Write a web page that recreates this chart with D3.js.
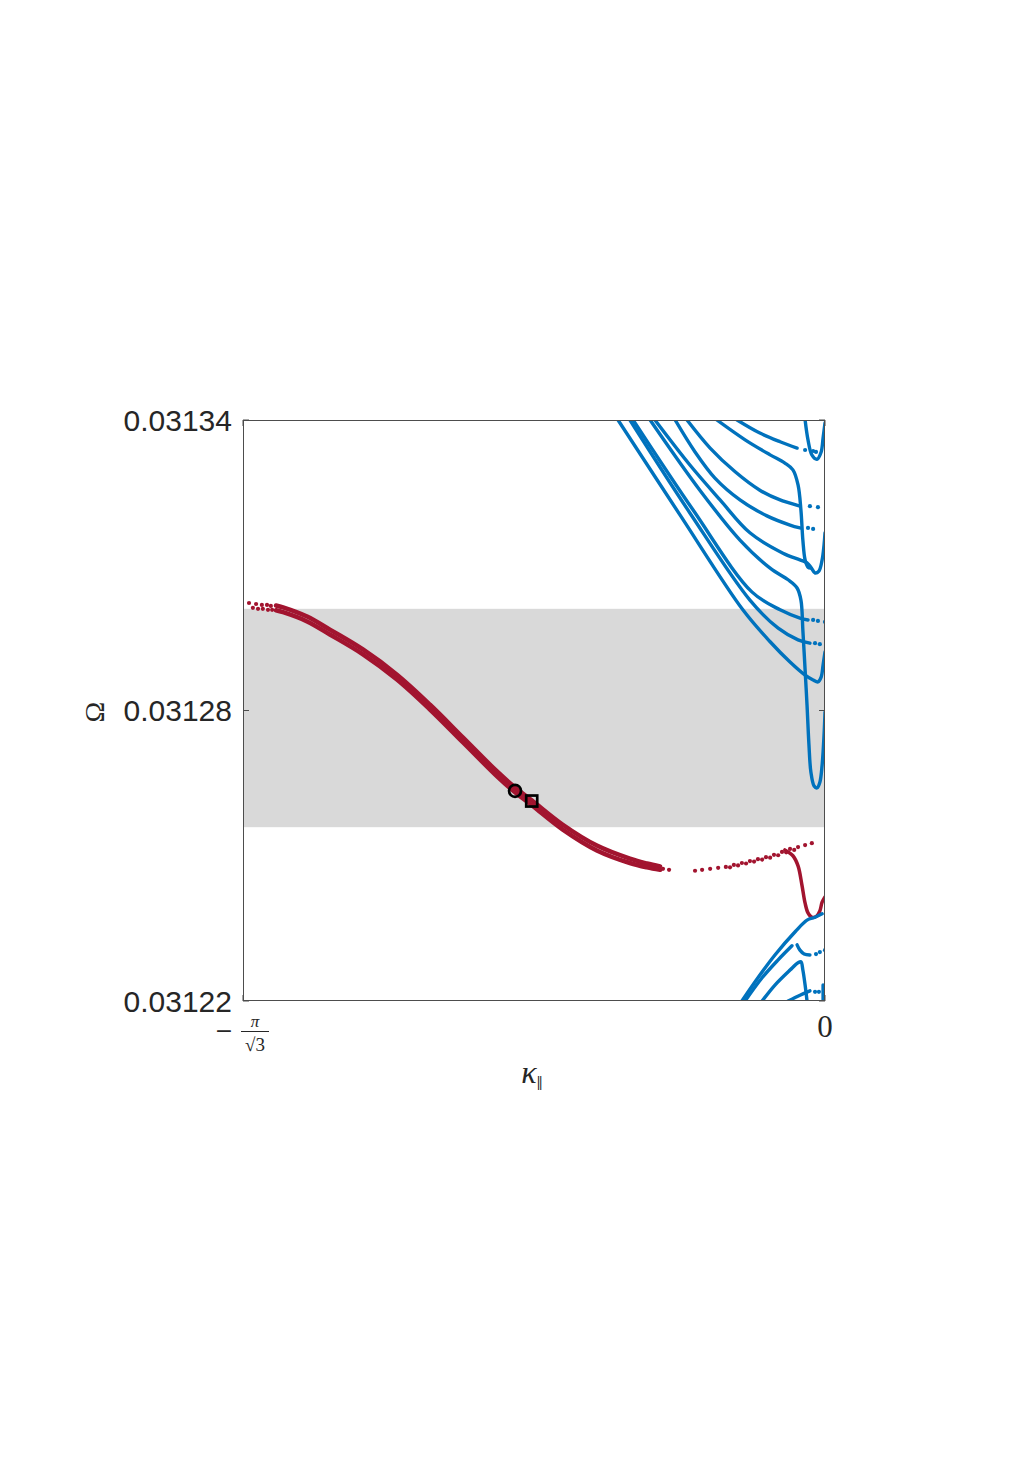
<!DOCTYPE html>
<html><head><meta charset="utf-8">
<script src="https://cdn.jsdelivr.net/npm/d3@7"></script>
<style>body{margin:0;background:#fff}svg{display:block}</style>
</head><body>
<svg id="chart" width="1033" height="1462"></svg>
<script>
// ---------- data (kappa, Omega) ----------
const xDomain = [-Math.PI / Math.sqrt(3), 0];
const yDomain = [0.03122, 0.03134];
const yTicks = [0.03122, 0.03128, 0.03134];
const yTickLabels = ["0.03122", "0.03128", "0.03134"];
const xTicks = [-Math.PI / Math.sqrt(3), 0];
const bandRange = [0.0312559, 0.0313010];

const redKappa = [-1.711,-1.689,-1.614,-1.543,-1.440,-1.334,-1.231,-1.128,-1.022,-0.966,-0.913,-0.817,-0.711,-0.608,-0.555,-0.514];
const redStrandA = [0.0313017,0.0313013,0.0312994,0.0312967,0.0312926,0.0312874,0.0312812,0.0312744,0.0312674,0.0312641,0.0312614,0.0312564,0.0312521,0.0312494,0.0312484,0.0312478];
const redStrandB = [0.0313007,0.0313003,0.0312984,0.0312957,0.0312916,0.0312864,0.0312802,0.0312734,0.0312664,0.0312631,0.0312604,0.0312554,0.0312511,0.0312485,0.0312476,0.0312471];
const redDotsStart = [[-1.795,0.0313022],[-1.773,0.0313020],[-1.755,0.0313018],[-1.739,0.0313018],[-1.727,0.0313016],[-1.783,0.0313012],[-1.767,0.0313010],[-1.752,0.0313010],[-1.736,0.0313008],[-1.723,0.0313008]];
const redDotsEnd = [[-0.539,0.0312475],[-0.524,0.0312473],[-0.505,0.0312473],[-0.486,0.0312471]];
const redDotsRise = [[-0.405,0.0312469],[-0.383,0.0312471],[-0.358,0.0312473],[-0.333,0.0312475],[-0.309,0.0312477],[-0.284,0.0312481],[-0.259,0.0312485],[-0.234,0.0312489],[-0.209,0.0312493],[-0.184,0.0312497],[-0.159,0.0312502],[-0.134,0.0312508],[-0.109,0.0312514],[-0.084,0.0312518],[-0.062,0.0312522],[-0.041,0.0312526]];
const redDotsRise2 = [[-0.296,0.0312476],[-0.271,0.0312480],[-0.246,0.0312484],[-0.221,0.0312488],[-0.196,0.0312492],[-0.171,0.0312496],[-0.146,0.0312501],[-0.121,0.0312507],[-0.096,0.0312512]];
const redBranch = [[-0.125,0.0312512],[-0.100,0.0312500],[-0.084,0.0312479],[-0.072,0.0312440],[-0.062,0.0312402],[-0.053,0.0312382],[-0.041,0.0312373],[-0.025,0.0312376],[-0.016,0.0312386],[-0.009,0.0312404],[0,0.0312415]];

const blueS1 = [[-0.645,0.0313400],[-0.452,0.0313204],[-0.256,0.0313008],[-0.171,0.0312942],[-0.109,0.0312900],[-0.062,0.0312873],[-0.037,0.0312863],[-0.022,0.0312859],[-0.012,0.0312869],[-0.006,0.0312894],[0,0.0312921]];
const blueS2 = [[-0.608,0.0313400],[-0.421,0.0313208],[-0.234,0.0313028],[-0.146,0.0312970],[-0.084,0.0312946],[-0.047,0.0312939]];
const blueS3 = [[-0.598,0.0313400],[-0.411,0.0313214],[-0.228,0.0313045],[-0.140,0.0313008],[-0.078,0.0312991],[-0.053,0.0312987]];
const blueL650 = [[-0.545,0.0313400],[-0.390,0.0313255],[-0.265,0.0313152],[-0.171,0.0313094],[-0.115,0.0313070],[-0.087,0.0313053],[-0.075,0.0313028],[-0.069,0.0312966],[-0.062,0.0312884],[-0.056,0.0312811],[-0.050,0.0312729],[-0.044,0.0312673],[-0.034,0.0312644],[-0.025,0.0312640],[-0.016,0.0312652],[-0.009,0.0312687],[-0.003,0.0312749],[0,0.0312797]];
const blueL655 = [[-0.530,0.0313400],[-0.421,0.0313307],[-0.327,0.0313235],[-0.234,0.0313167],[-0.131,0.0313125],[-0.078,0.0313111],[-0.056,0.0313105],[-0.044,0.0313096],[-0.031,0.0313084],[-0.019,0.0313088],[-0.009,0.0313111],[-0.003,0.0313142],[0,0.0313167]];
const blueL675 = [[-0.467,0.0313400],[-0.405,0.0313334],[-0.343,0.0313280],[-0.265,0.0313235],[-0.181,0.0313202],[-0.109,0.0313183],[-0.078,0.0313177]];
const blueL687 = [[-0.430,0.0313400],[-0.358,0.0313342],[-0.280,0.0313293],[-0.203,0.0313255],[-0.140,0.0313235],[-0.078,0.0313222]];
const blueL717 = [[-0.337,0.0313400],[-0.249,0.0313359],[-0.171,0.0313328],[-0.125,0.0313311],[-0.100,0.0313297],[-0.084,0.0313266],[-0.075,0.0313214],[-0.069,0.0313152],[-0.062,0.0313111],[-0.053,0.0313096],[-0.044,0.0313094]];
const blueL737 = [[-0.274,0.0313400],[-0.203,0.0313373],[-0.140,0.0313355],[-0.087,0.0313342]];
const blueVtop = [[-0.062,0.0313400],[-0.053,0.0313359],[-0.041,0.0313328],[-0.025,0.0313319],[-0.012,0.0313334],[-0.006,0.0313363],[0,0.0313394]];
const blueB1 = [[-0.259,0.0312200],[-0.209,0.0312248],[-0.156,0.0312295],[-0.093,0.0312343],[-0.056,0.0312367],[-0.031,0.0312373],[-0.009,0.0312380]];
const blueB2a = [[-0.249,0.0312200],[-0.196,0.0312248],[-0.146,0.0312285],[-0.103,0.0312314]];
const blueB2b = [[-0.087,0.0312316],[-0.078,0.0312305],[-0.065,0.0312297],[-0.047,0.0312295]];
const blueB3 = [[-0.196,0.0312200],[-0.156,0.0312233],[-0.109,0.0312264],[-0.084,0.0312279],[-0.075,0.0312281],[-0.069,0.0312264],[-0.062,0.0312233],[-0.056,0.0312200]];
const blueB4 = [[-0.115,0.0312200],[-0.078,0.0312212],[-0.047,0.0312221]];
const blueB5 = [[-0.006,0.0312233],[-0.006,0.0312200]];
const blueDots = [[-0.031,0.0312939],[-0.016,0.0312937],[-0.037,0.0312987],[-0.022,0.0312985],[0,0.0312983],[-0.053,0.0313177],[-0.037,0.0313175],[-0.047,0.0313222],[-0.022,0.0313220],[-0.062,0.0313338],[-0.037,0.0313336],[-0.028,0.0313334],[-0.028,0.0312297],[-0.016,0.0312301],[0,0.0312305],[-0.031,0.0312219],[-0.019,0.0312219]];

const markerCircle = [-0.966, 0.0312634];
const markerSquare = [-0.914, 0.0312613];

// ---------- drawing ----------
const RED = "#A2142F", BLUE = "#0072BD";
const L = 243, R = 825, T = 420, B = 1001;
const svg = d3.select("#chart");
const x = d3.scaleLinear().domain(xDomain).range([L, R]);
const y = d3.scaleLinear().domain(yDomain).range([B, T]);

svg.append("defs").append("clipPath").attr("id", "clip")
  .append("rect").attr("x", L).attr("y", T).attr("width", R - L).attr("height", B - T);

const plot = svg.append("g").attr("clip-path", "url(#clip)");
plot.append("rect").attr("x", L).attr("width", R - L)
  .attr("y", y(bandRange[1])).attr("height", y(bandRange[0]) - y(bandRange[1]))
  .attr("fill", "#d9d9d9");

const lineFree = d3.line().x(d => x(d[0])).y(d => y(d[1])).curve(d3.curveCatmullRom.alpha(0.5));

[redStrandA, redStrandB].forEach(s => plot.append("path")
  .attr("d", lineFree(redKappa.map((k, i) => [k, s[i]])))
  .attr("fill", "none").attr("stroke", RED).attr("stroke-width", 4.5).attr("stroke-linecap", "round"));
plot.append("path").attr("d", lineFree(redBranch)).attr("fill", "none").attr("stroke", RED)
  .attr("stroke-width", 3.5).attr("stroke-linejoin", "round").attr("stroke-linecap", "round");
plot.selectAll("circle.rd").data(redDotsStart.concat(redDotsEnd, redDotsRise, redDotsRise2)).join("circle")
  .attr("class", "rd").attr("cx", d => x(d[0])).attr("cy", d => y(d[1])).attr("r", 2.1).attr("fill", RED);

const blues = [blueS1, blueS2, blueS3, blueL650, blueL655, blueL675, blueL687, blueL717, blueL737, blueVtop,
  blueB1, blueB2a, blueB2b, blueB3, blueB4, blueB5];
blues.forEach(s => plot.append("path").attr("d", lineFree(s)).attr("fill", "none").attr("stroke", BLUE)
  .attr("stroke-width", 3.4).attr("stroke-linejoin", "round").attr("stroke-linecap", "round"));
plot.selectAll("circle.bd").data(blueDots).join("circle")
  .attr("class", "bd").attr("cx", d => x(d[0])).attr("cy", d => y(d[1])).attr("r", 2.1).attr("fill", BLUE);

// markers
svg.append("circle").attr("cx", x(markerCircle[0])).attr("cy", y(markerCircle[1])).attr("r", 6)
  .attr("fill", "none").attr("stroke", "#000").attr("stroke-width", 2.7);
svg.append("rect").attr("x", x(markerSquare[0]) - 5.5).attr("y", y(markerSquare[1]) - 5.5)
  .attr("width", 11).attr("height", 11).attr("fill", "none").attr("stroke", "#000").attr("stroke-width", 2.7);

// axes box
const ax = svg.append("g").attr("stroke", "#4d4d4d").attr("stroke-width", 1).attr("fill", "none");
ax.append("rect").attr("x", L + 0.5).attr("y", T + 0.5).attr("width", R - L - 1).attr("height", B - T - 1);
yTicks.forEach(t => {
  ax.append("line").attr("x1", L).attr("x2", L + 6).attr("y1", y(t)).attr("y2", y(t));
  ax.append("line").attr("x1", R - 6).attr("x2", R).attr("y1", y(t)).attr("y2", y(t));
});
xTicks.forEach(t => {
  ax.append("line").attr("x1", x(t)).attr("x2", x(t)).attr("y1", B).attr("y2", B - 6);
  ax.append("line").attr("x1", x(t)).attr("x2", x(t)).attr("y1", T).attr("y2", T + 6);
});

// y tick labels
svg.selectAll("text.yt").data(yTicks).join("text").attr("class", "yt")
  .attr("x", L - 11).attr("y", d => y(d)).attr("dy", "0.36em").attr("text-anchor", "end")
  .attr("font-family", "'Liberation Sans', Arial, Helvetica, sans-serif").attr("font-size", 30)
  .attr("fill", "#262626").text((d, i) => yTickLabels[i]);

// x tick labels
const serif = "'Liberation Serif','Times New Roman',serif";
svg.append("text").attr("x", x(0)).attr("y", 1037).attr("text-anchor", "middle")
  .attr("font-family", serif).attr("font-size", 31).attr("fill", "#262626").text("0");
const xl = x(xTicks[0]);
svg.append("text").attr("x", xl - 19).attr("y", 1038).attr("text-anchor", "middle")
  .attr("font-family", "'DejaVu Sans', sans-serif").attr("font-size", 22).attr("fill", "#262626").text("\u2212");
svg.append("text").attr("x", xl + 12).attr("y", 1027).attr("text-anchor", "middle")
  .attr("font-family", serif).attr("font-style", "italic").attr("font-size", 17).attr("fill", "#262626").text("\u03c0");
svg.append("line").attr("x1", xl - 2).attr("x2", xl + 26).attr("y1", 1031.5).attr("y2", 1031.5)
  .attr("stroke", "#262626").attr("stroke-width", 1);
svg.append("text").attr("x", xl + 12).attr("y", 1051).attr("text-anchor", "middle")
  .attr("font-family", serif).attr("font-size", 19).attr("fill", "#262626").text("\u221a3");

// axis labels
svg.append("text").attr("transform", "translate(104,712) rotate(-90)").attr("text-anchor", "middle")
  .attr("font-family", serif).attr("font-size", 28).attr("fill", "#262626").text("\u03a9");
const xlab = svg.append("text").attr("x", 532).attr("y", 1083).attr("text-anchor", "middle")
  .attr("font-family", serif).attr("fill", "#262626");
xlab.append("tspan").attr("font-style", "italic").attr("font-size", 32).text("\u03ba");
xlab.append("tspan").attr("font-size", 22).attr("dy", 7).text("\u2016");
</script>
</body></html>
